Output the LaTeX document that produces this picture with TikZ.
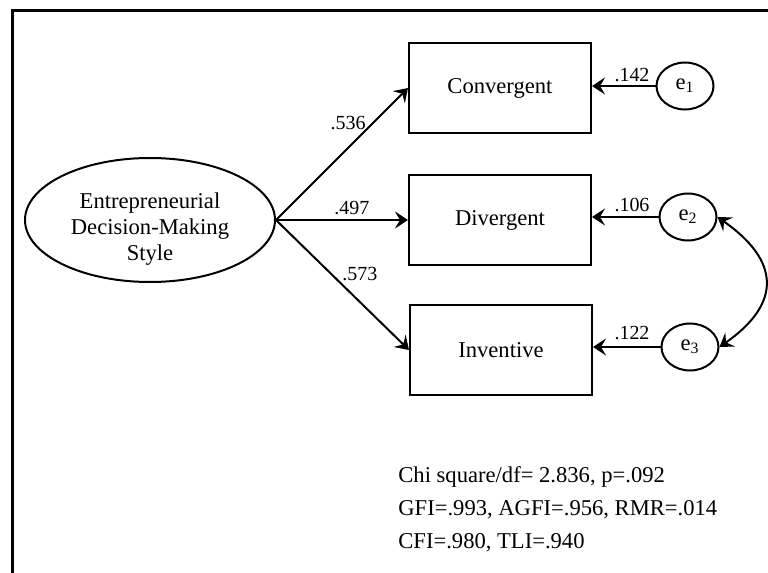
\documentclass[tikz,border=0pt]{standalone}
\usepackage{fontspec}
\setmainfont{Liberation Serif}
\usetikzlibrary{arrows.meta,shapes.geometric}

\begin{document}
\begin{tikzpicture}[x=0.5pt, y=-0.5pt, >={Stealth[length=6.5pt,width=8.5pt,inset=2.5pt]},
	every node/.style={font=\fontsize{11.3}{13}\selectfont},
	obs/.style={draw, line width=1pt, minimum width=91pt, minimum height=45pt, inner sep=0pt},
	lat/.style={draw, ellipse, line width=1pt, minimum width=125pt, minimum height=62pt, inner sep=0pt},
	err/.style={draw, ellipse, line width=1pt, minimum width=28.5pt, minimum height=23.5pt, inner sep=0pt},
	coef/.style={font=\fontsize{10}{11}\selectfont, inner sep=0pt},
	lnk/.style={->, line width=1pt}]
	\useasboundingbox (0,0) rectangle (768,573);
	\draw[line width=1.9pt] (12.5,573) -- (12.5,10.5) -- (768,10.5);

	\node[lat] (eds) at (150,220) {};
	\node[align=center, inner sep=0pt] (edstext) at (150,229) {Entrepreneurial\\Decision-Making\\Style};

	\node[obs] (conv) at (500,88) {Convergent};
	\node[obs] (div) at (500,220) {Divergent};
	\node[obs] (inv) at (501,350) {Inventive};

	\node[err] (e1) at (685,86) {e\textsubscript{1}};
	\node[err] (e2) at (688,217) {e\textsubscript{2}};
	\node[err] (e3) at (690,347) {e\textsubscript{3}};

	\draw[lnk] (eds.east) -- (conv.west);
	\draw[lnk] (eds.east) -- (div.west);
	\draw[lnk] (eds.east) -- (inv.west);
	\draw[lnk] (e1) -- (e1 -| conv.east);
	\draw[lnk] (e2) -- (e2 -| div.east);
	\draw[lnk] (e3) -- (e3 -| inv.east);
	\draw[<->, line width=1pt] (e2.east) to[out=-35, in=35, looseness=1.5] (e3.east);

	\node[coef] (c1) at (348,123) {.536};
	\node[coef] (c2) at (352,208) {.497};
	\node[coef] (c3) at (360,274) {.573};
	\node[coef] (c4) at (632,75) {.142};
	\node[coef] (c5) at (632,205) {.106};
	\node[coef] (c6) at (632,333) {.122};

	\node[anchor=west, align=left, inner sep=0pt, font=\fontsize{11.3}{16.5}\selectfont] (fit) at (398,509)
		{Chi square/df= 2.836, p=.092\\GFI=.993, AGFI=.956, RMR=.014\\CFI=.980, TLI=.940};
\end{tikzpicture}
\end{document}
